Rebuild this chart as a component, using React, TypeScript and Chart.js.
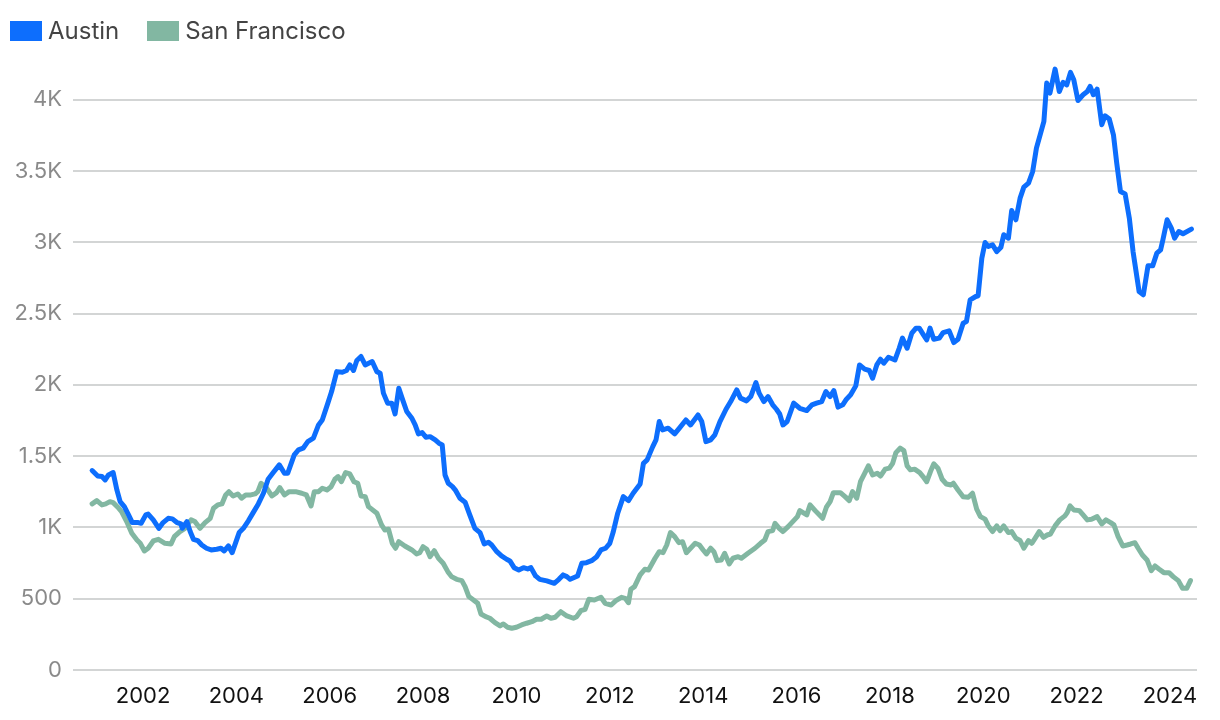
import React, { useEffect, useRef } from "react";
import { Chart, registerables } from "chart.js";

Chart.register(...registerables);

// [decimal year, value]
const austin: [number, number][] = [
  [2000.91, 1399], [2001.03, 1361], [2001.12, 1357], [2001.19, 1333], [2001.26, 1368], [2001.36, 1385],
  [2001.44, 1263], [2001.51, 1181], [2001.6, 1146], [2001.69, 1088], [2001.77, 1034], [2001.9, 1034],
  [2001.96, 1029], [2002.06, 1088], [2002.11, 1094], [2002.22, 1053], [2002.34, 994], [2002.43, 1034],
  [2002.54, 1064], [2002.63, 1060], [2002.72, 1036], [2002.81, 1025], [2002.84, 994], [2002.94, 1041],
  [2003.01, 971], [2003.08, 917], [2003.17, 908], [2003.26, 877], [2003.36, 854], [2003.46, 842],
  [2003.58, 847], [2003.67, 854], [2003.74, 835], [2003.83, 870], [2003.91, 823], [2004.06, 964],
  [2004.15, 994], [2004.26, 1048], [2004.36, 1104], [2004.47, 1165], [2004.58, 1240], [2004.68, 1338],
  [2004.79, 1385], [2004.92, 1439], [2005.03, 1380], [2005.1, 1380], [2005.24, 1509], [2005.33, 1544],
  [2005.43, 1556], [2005.53, 1602], [2005.65, 1626], [2005.76, 1719], [2005.84, 1754], [2005.96, 1872],
  [2006.04, 1953], [2006.15, 2093], [2006.27, 2089], [2006.36, 2101], [2006.43, 2140], [2006.51, 2101],
  [2006.58, 2171], [2006.67, 2199], [2006.76, 2140], [2006.91, 2164], [2007.01, 2093], [2007.08, 2082],
  [2007.15, 1942], [2007.24, 1872], [2007.33, 1872], [2007.4, 1796], [2007.48, 1977], [2007.55, 1907],
  [2007.65, 1813], [2007.76, 1766], [2007.83, 1719], [2007.9, 1656], [2007.98, 1665], [2008.06, 1633],
  [2008.15, 1637], [2008.26, 1614], [2008.34, 1591], [2008.41, 1579], [2008.47, 1368], [2008.54, 1310],
  [2008.63, 1286], [2008.7, 1258], [2008.79, 1205], [2008.9, 1177], [2009.0, 1088], [2009.11, 994],
  [2009.22, 964], [2009.31, 884], [2009.4, 896], [2009.47, 877], [2009.58, 830], [2009.68, 800],
  [2009.79, 777], [2009.86, 765], [2009.95, 718], [2010.05, 702], [2010.15, 718], [2010.24, 709],
  [2010.31, 718], [2010.41, 660], [2010.5, 636], [2010.65, 625], [2010.81, 608], [2010.91, 636],
  [2011.0, 667], [2011.08, 655], [2011.15, 636], [2011.31, 660], [2011.4, 749], [2011.5, 753],
  [2011.61, 767], [2011.72, 795], [2011.81, 842], [2011.91, 854], [2012.0, 889], [2012.07, 964],
  [2012.17, 1100], [2012.29, 1216], [2012.4, 1188], [2012.5, 1240], [2012.65, 1305], [2012.72, 1450],
  [2012.8, 1474], [2012.92, 1567], [2012.99, 1614], [2013.06, 1743], [2013.13, 1684], [2013.25, 1696],
  [2013.39, 1656], [2013.5, 1700], [2013.63, 1754], [2013.73, 1719], [2013.89, 1789], [2013.97, 1743],
  [2014.06, 1602], [2014.16, 1614], [2014.25, 1649], [2014.36, 1743], [2014.49, 1829], [2014.59, 1883],
  [2014.72, 1965], [2014.8, 1907], [2014.93, 1888], [2015.02, 1918], [2015.13, 2016], [2015.2, 1942],
  [2015.3, 1883], [2015.39, 1918], [2015.49, 1860], [2015.57, 1829], [2015.64, 1796], [2015.71, 1719],
  [2015.8, 1743], [2015.94, 1872], [2016.07, 1836], [2016.22, 1820], [2016.33, 1860], [2016.43, 1872],
  [2016.54, 1883], [2016.63, 1953], [2016.72, 1918], [2016.8, 1960], [2016.89, 1844], [2016.99, 1860],
  [2017.07, 1900], [2017.16, 1930], [2017.27, 1993], [2017.35, 2140], [2017.46, 2110], [2017.56, 2101],
  [2017.63, 2047], [2017.72, 2140], [2017.8, 2180], [2017.87, 2152], [2017.97, 2194], [2018.11, 2175],
  [2018.2, 2257], [2018.27, 2328], [2018.37, 2257], [2018.47, 2363], [2018.56, 2398], [2018.63, 2398],
  [2018.72, 2351], [2018.79, 2316], [2018.86, 2398], [2018.94, 2320], [2019.06, 2328], [2019.14, 2367],
  [2019.27, 2379], [2019.37, 2297], [2019.46, 2320], [2019.57, 2433], [2019.64, 2444], [2019.72, 2596],
  [2019.84, 2620], [2019.89, 2625], [2019.97, 2889], [2020.04, 2999], [2020.11, 2971], [2020.2, 2982],
  [2020.29, 2935], [2020.38, 2966], [2020.44, 3053], [2020.54, 3029], [2020.61, 3223], [2020.7, 3158],
  [2020.79, 3310], [2020.87, 3387], [2020.97, 3415], [2021.06, 3497], [2021.14, 3661], [2021.23, 3766],
  [2021.3, 3848], [2021.36, 4117], [2021.43, 4047], [2021.54, 4215], [2021.63, 4058], [2021.71, 4122],
  [2021.79, 4105], [2021.87, 4192], [2021.94, 4140], [2022.03, 3995], [2022.14, 4035], [2022.23, 4058],
  [2022.29, 4094], [2022.36, 4035], [2022.44, 4075], [2022.54, 3825], [2022.61, 3888], [2022.7, 3865],
  [2022.79, 3754], [2022.86, 3556], [2022.94, 3357], [2023.04, 3340], [2023.13, 3170], [2023.21, 2935],
  [2023.34, 2655], [2023.43, 2632], [2023.53, 2835], [2023.63, 2835], [2023.72, 2924], [2023.8, 2947],
  [2023.85, 3018], [2023.94, 3158], [2024.03, 3100], [2024.1, 3029], [2024.19, 3076], [2024.28, 3060],
  [2024.46, 3093],
];

const sanFrancisco: [number, number][] = [
  [2000.91, 1165], [2001.01, 1188], [2001.12, 1158], [2001.2, 1165], [2001.29, 1181], [2001.36, 1174],
  [2001.46, 1142], [2001.54, 1111], [2001.65, 1041], [2001.76, 959], [2001.87, 912], [2001.94, 889],
  [2002.03, 835], [2002.11, 854], [2002.22, 905], [2002.33, 917], [2002.47, 889], [2002.6, 884],
  [2002.67, 935], [2002.79, 971], [2002.9, 994], [2003.03, 1053], [2003.11, 1041], [2003.22, 994],
  [2003.33, 1034], [2003.44, 1064], [2003.51, 1135], [2003.6, 1158], [2003.69, 1165], [2003.77, 1228],
  [2003.84, 1251], [2003.93, 1221], [2004.03, 1235], [2004.11, 1205], [2004.2, 1228], [2004.31, 1228],
  [2004.4, 1235], [2004.46, 1251], [2004.53, 1310], [2004.65, 1275], [2004.76, 1221], [2004.86, 1244],
  [2004.93, 1279], [2005.03, 1228], [2005.13, 1251], [2005.27, 1251], [2005.4, 1240], [2005.5, 1228],
  [2005.6, 1151], [2005.67, 1251], [2005.76, 1251], [2005.84, 1275], [2005.94, 1263], [2006.03, 1286],
  [2006.11, 1338], [2006.18, 1357], [2006.25, 1321], [2006.34, 1385], [2006.43, 1375], [2006.52, 1321],
  [2006.6, 1310], [2006.67, 1221], [2006.76, 1216], [2006.83, 1146], [2007.01, 1100], [2007.11, 1018],
  [2007.18, 982], [2007.26, 987], [2007.34, 889], [2007.41, 854], [2007.48, 900], [2007.61, 870],
  [2007.76, 842], [2007.86, 814], [2007.93, 823], [2008.0, 865], [2008.08, 847], [2008.15, 795],
  [2008.24, 837], [2008.33, 784], [2008.43, 749], [2008.53, 690], [2008.61, 655], [2008.72, 636],
  [2008.83, 627], [2008.9, 585], [2008.98, 515], [2009.08, 491], [2009.17, 468], [2009.24, 393],
  [2009.34, 374], [2009.43, 363], [2009.54, 332], [2009.65, 309], [2009.72, 323], [2009.81, 300],
  [2009.9, 293], [2010.0, 300], [2010.11, 316], [2010.22, 328], [2010.33, 339], [2010.43, 356],
  [2010.53, 356], [2010.65, 379], [2010.74, 363], [2010.83, 370], [2010.95, 409], [2011.08, 379],
  [2011.22, 363], [2011.29, 374], [2011.38, 416], [2011.47, 426], [2011.55, 496], [2011.67, 491],
  [2011.81, 510], [2011.9, 468], [2012.03, 456], [2012.13, 486], [2012.25, 510], [2012.33, 503],
  [2012.4, 472], [2012.45, 566], [2012.53, 585], [2012.65, 667], [2012.75, 707], [2012.83, 702],
  [2012.97, 784], [2013.06, 830], [2013.14, 823], [2013.22, 877], [2013.3, 964], [2013.39, 936],
  [2013.48, 893], [2013.56, 900], [2013.64, 823], [2013.73, 854], [2013.83, 889], [2013.92, 877],
  [2014.0, 842], [2014.07, 814], [2014.16, 854], [2014.23, 830], [2014.3, 767], [2014.39, 772],
  [2014.46, 819], [2014.56, 744], [2014.64, 784], [2014.75, 795], [2014.82, 784], [2014.96, 819],
  [2015.11, 854], [2015.23, 889], [2015.32, 912], [2015.39, 971], [2015.49, 978], [2015.54, 1029],
  [2015.63, 994], [2015.71, 971], [2015.82, 1006], [2015.92, 1041], [2016.02, 1076], [2016.07, 1118],
  [2016.22, 1088], [2016.29, 1158], [2016.4, 1118], [2016.56, 1064], [2016.64, 1142], [2016.72, 1181],
  [2016.79, 1244], [2016.94, 1244], [2017.04, 1216], [2017.13, 1188], [2017.2, 1251], [2017.29, 1205],
  [2017.37, 1321], [2017.46, 1380], [2017.54, 1432], [2017.63, 1368], [2017.73, 1380], [2017.8, 1361],
  [2017.9, 1409], [2017.99, 1416], [2018.06, 1450], [2018.13, 1525], [2018.22, 1556], [2018.3, 1539],
  [2018.37, 1432], [2018.44, 1404], [2018.53, 1409], [2018.64, 1385], [2018.71, 1357], [2018.79, 1321],
  [2018.87, 1392], [2018.94, 1446], [2019.03, 1416], [2019.12, 1338], [2019.21, 1305], [2019.31, 1298],
  [2019.36, 1310], [2019.46, 1263], [2019.57, 1216], [2019.68, 1212], [2019.77, 1240], [2019.86, 1128],
  [2019.94, 1076], [2020.04, 1058], [2020.11, 1011], [2020.2, 971], [2020.29, 1011], [2020.36, 978],
  [2020.44, 1011], [2020.54, 964], [2020.61, 971], [2020.7, 924], [2020.79, 908], [2020.87, 854],
  [2020.97, 908], [2021.04, 889], [2021.11, 924], [2021.2, 971], [2021.29, 931], [2021.37, 947],
  [2021.44, 954], [2021.54, 1011], [2021.64, 1053], [2021.75, 1081], [2021.8, 1104], [2021.86, 1151],
  [2021.94, 1123], [2022.06, 1118], [2022.14, 1088], [2022.23, 1053], [2022.32, 1058], [2022.44, 1076],
  [2022.54, 1025], [2022.63, 1053], [2022.73, 1034], [2022.8, 1018], [2022.89, 936], [2022.99, 870],
  [2023.08, 877], [2023.16, 884], [2023.25, 893], [2023.32, 854], [2023.41, 807], [2023.51, 772],
  [2023.6, 697], [2023.68, 730], [2023.77, 707], [2023.87, 683], [2023.98, 683], [2024.07, 655],
  [2024.18, 627], [2024.27, 573], [2024.36, 573], [2024.44, 627],
];

const seriesNames = ["Austin", "San Francisco"];
const seriesColors = ["#0D6EFD", "#82B7A2"];
const xTickYears = [2002, 2004, 2006, 2008, 2010, 2012, 2014, 2016, 2018, 2020, 2022, 2024];
const yTickValues = [0, 500, 1000, 1500, 2000, 2500, 3000, 3500, 4000];

const FONT = "Inter, 'Noto Sans', sans-serif";

export default function App() {
  const canvasRef = useRef<HTMLCanvasElement | null>(null);

  useEffect(() => {
    document.body.style.margin = "0";
    const canvas = canvasRef.current;
    if (!canvas) return;
    const toPts = (arr: [number, number][]) => arr.map(([x, y]) => ({ x, y }));
    const chart = new Chart(canvas, {
      type: "line",
      data: {
        datasets: [
          {
            label: seriesNames[0],
            data: toPts(austin),
            borderColor: seriesColors[0],
            backgroundColor: seriesColors[0],
            borderWidth: 5,
            pointRadius: 0,
            tension: 0,
            borderJoinStyle: "round",
            borderCapStyle: "round",
          },
          {
            label: seriesNames[1],
            data: toPts(sanFrancisco),
            borderColor: seriesColors[1],
            backgroundColor: seriesColors[1],
            borderWidth: 5,
            pointRadius: 0,
            tension: 0,
            borderJoinStyle: "round",
            borderCapStyle: "round",
          },
        ],
      },
      options: {
        animation: false,
        responsive: true,
        maintainAspectRatio: false,
        layout: { padding: { top: 57, right: 23, left: 0, bottom: 0 } },
        plugins: {
          legend: { display: false },
          tooltip: { enabled: false },
        },
        scales: {
          x: {
            type: "linear",
            min: 2000.5,
            max: 2024.58,
            grid: { display: false, drawTicks: false },
            border: { display: false },
            afterBuildTicks: (scale: any) => {
              scale.ticks = xTickYears.map((v) => ({ value: v }));
            },
            afterFit: (scale: any) => {
              scale.height = 50;
            },
            ticks: {
              autoSkip: false,
              maxRotation: 0,
              padding: 13,
              color: "#111111",
              font: { family: FONT, size: 22 },
              callback: (v: any) => String(v),
            },
          },
          y: {
            type: "linear",
            min: 0,
            max: 4300,
            grid: { color: "#D3D5D5", lineWidth: 2, drawTicks: false },
            border: { display: false },
            afterBuildTicks: (scale: any) => {
              scale.ticks = yTickValues.map((v) => ({ value: v }));
            },
            afterFit: (scale: any) => {
              scale.width = 73;
            },
            ticks: {
              padding: 11,
              color: "#8A8A8A",
              font: { family: FONT, size: 22 },
              callback: (v: any) => (Number(v) >= 1000 ? Number(v) / 1000 + "K" : String(v)),
            },
          },
        },
      },
    });
    return () => chart.destroy();
  }, []);

  return (
    <div style={{ position: "relative", width: 1220, height: 720 }}>
      <canvas ref={canvasRef} />
      <div
        style={{
          position: "absolute",
          left: 10,
          top: 16,
          display: "flex",
          alignItems: "center",
          fontFamily: FONT,
          fontSize: 24,
          color: "#444444",
        }}
      >
        {seriesNames.map((name, i) => (
          <div key={name} style={{ display: "flex", alignItems: "center", marginRight: 28 }}>
            <span
              style={{
                display: "inline-block",
                width: 32,
                height: 20,
                background: seriesColors[i],
                marginRight: 6,
              }}
            />
            <span>{name}</span>
          </div>
        ))}
      </div>
    </div>
  );
}
